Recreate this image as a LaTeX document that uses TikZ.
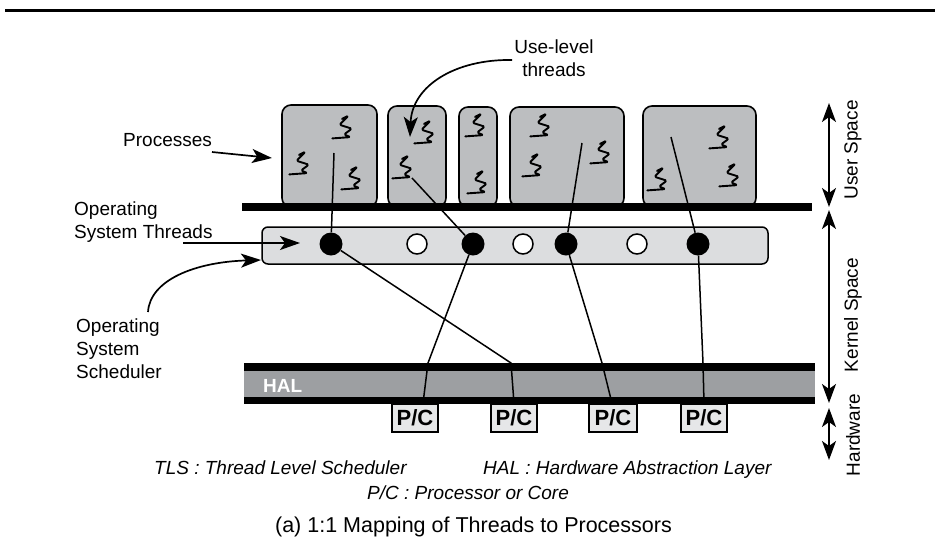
\documentclass[tikz,border=0pt]{standalone}
\usepackage{fontspec}
\setmainfont{Liberation Sans}
\usetikzlibrary{arrows.meta}
\definecolor{procgray}{HTML}{BCBEC0}
\definecolor{kerngray}{HTML}{DCDDDF}
\definecolor{halgray}{HTML}{9D9FA2}
\definecolor{pcgray}{HTML}{E6E7E8}

\begin{document}
\begin{tikzpicture}[x=1pt,y=-1pt,
  lbl/.style={font=\fontsize{19}{23}\selectfont, inner sep=0pt},
  note/.style={font=\fontsize{19}{22}\selectfont\itshape, inner sep=0pt},
  procbox/.style={draw, line width=1.6pt, fill=procgray, rounded corners=9pt, inner sep=0pt},
  tip/.style={-{Stealth[length=20pt,width=14pt,inset=5pt]}, line width=1.7pt},
  dtip/.style={{Stealth[length=19pt,width=14pt,inset=5pt]}-{Stealth[length=19pt,width=14pt,inset=5pt]}, line width=1.5pt},
  link/.style={line width=1.5pt},
  osthr/.style={circle, fill=black, minimum size=23pt, inner sep=0pt},
  idle/.style={circle, draw, line width=1.5pt, fill=white, minimum size=20pt, inner sep=0pt},
  pcbox/.style={draw, line width=1.4pt, fill=pcgray, minimum width=46pt, minimum height=28pt,
    inner sep=0pt, font=\fontsize{22}{22}\selectfont\bfseries},
  thr/.pic={
    \draw[scale=1.3, line width=1.9pt, line join=round, line cap=round, rounded corners=1.5pt]
      (-1.5,-7) -- (3.5,-9.5) -- (-3.5,-2.5) -- (6,0.5) -- (0,5) -- (5,7) -- (-9,8);
  }
]
\useasboundingbox (0,0) rectangle (938,542);

% top rule
\draw[line width=3pt] (5,10) -- (935,10);

% processes
\node[procbox, minimum width=95pt,  minimum height=102pt] (p1) at (329.5,156) {};
\node[procbox, minimum width=58pt,  minimum height=101pt] (p2) at (417,156.5) {};
\node[procbox, minimum width=38pt,  minimum height=100pt] (p3) at (478,157) {};
\node[procbox, minimum width=114pt, minimum height=100pt] (p4) at (567,157) {};
\node[procbox, minimum width=113pt, minimum height=101pt] (p5) at (699.5,156.5) {};

% user-level threads
\pic at (344,128) {thr};
\pic at (301,164) {thr};
\pic at (353,179) {thr};
\pic at (426,133) {thr};
\pic at (404,168) {thr};
\pic at (477,126) {thr};
\pic at (479,183) {thr};
\pic at (542,126) {thr};
\pic at (534,166) {thr};
\pic at (602,153) {thr};
\pic at (721,138) {thr};
\pic at (659,180) {thr};
\pic at (731,176) {thr};

% user/kernel boundary
\fill (242,203) rectangle (812,211);

% kernel thread pool
\node[draw, line width=1.5pt, fill=kerngray, rounded corners=6pt, inner sep=0pt,
  minimum width=506pt, minimum height=37pt] (kern) at (515,245.5) {};
\node[osthr] (b1) at (331,244) {};
\node[idle]  (w1) at (417,244) {};
\node[osthr] (b2) at (473,244) {};
\node[idle]  (w2) at (523,244) {};
\node[osthr] (b3) at (566,244) {};
\node[idle]  (w3) at (637,244) {};
\node[osthr] (b4) at (698,244) {};

% hardware abstraction layer
\fill[halgray] (244,371) rectangle (815,397);
\fill (244,363) rectangle (815,371);
\fill (244,397) rectangle (815,404);
\node[font=\fontsize{19}{19}\selectfont\bfseries, text=white, anchor=west, inner sep=0pt] (hal) at (263,386) {HAL};

% processors
\node[pcbox] (pc1) at (415,418) {P/C};
\node[pcbox] (pc2) at (514,418) {P/C};
\node[pcbox, minimum width=48pt] (pc3) at (613,418) {P/C};
\node[pcbox] (pc4) at (704,418) {P/C};

% thread mappings
\coordinate (t1) at (334,153);
\coordinate (t2) at (412,178);
\coordinate (t3) at (582,143);
\coordinate (t4) at (671,137);
\coordinate (k1) at (511,363);
\coordinate (k2) at (428,363);
\coordinate (k3) at (602,363);
\coordinate (k4) at (703,363);
\coordinate (e2) at (423,404);
\coordinate (e3) at (612,404);
\draw[link] (t1) -- (b1);
\draw[link] (t2) -- (b2);
\draw[link] (t3) -- (b3);
\draw[link] (t4) -- (b4);
\draw[link] (b1) -- (k1) -- (pc2.north);
\draw[link] (b2) -- (k2) -- (e2 |- pc1.north);
\draw[link] (b3) -- (k3) -- (e3 |- pc3.north);
\draw[link] (b4) -- (k4) -- (pc4.north);

% labels and pointers
\node[lbl, anchor=west] (proc) at (123,140) {Processes};
\node[lbl, align=center] (ult) at (554,58) {Use-level\\threads};
\node[lbl, align=left, anchor=west] (ost) at (74,222) {Operating\\System Threads};
\node[lbl, align=left, anchor=west] (oss) at (76,349) {Operating\\System\\Scheduler};

\coordinate (procA) at (212,152);
\coordinate (procB) at (272,158);
\draw[tip] (procA) -- (procB);
\coordinate (ostA) at (183,243);
\coordinate (ostB) at (300,243);
\draw[tip] (ostA) -- (ostB);
\coordinate (ossA) at (148,312);
\coordinate (ossB) at (261,260);
\draw[tip] (ossA) .. controls (150,280) and (195,262) .. (ossB);
\coordinate (ultA) at (512,60);
\coordinate (ultB) at (410,137);
\draw[tip] (ultA) .. controls (455,59) and (412,86) .. (ultB);

% layer extents
\coordinate (us1) at (829,103);
\coordinate (us2) at (829,207);
\coordinate (ks1) at (829,210);
\coordinate (ks2) at (829,403);
\coordinate (hw1) at (829,408);
\coordinate (hw2) at (829,460);
\draw[dtip] (us1) -- (us2);
\draw[dtip] (ks1) -- (ks2);
\draw[dtip] (hw1) -- (hw2);
\node[lbl, rotate=90] (usl) at (853,150) {User Space};
\node[lbl, rotate=90] (ksl) at (853,315) {Kernel Space};
\node[lbl, rotate=90] (hwl) at (853,435) {Hardware};

% legend and caption
\node[note, anchor=base west] (tls) at (154,474) {TLS : Thread Level Scheduler};
\node[note, anchor=base west] (haln) at (483,474) {HAL : Hardware Abstraction Layer};
\node[note, anchor=base west] (pcn) at (367,499) {P/C : Processor or Core};
\node[font=\fontsize{21.5}{24}\selectfont, inner sep=0pt, anchor=base] (cap) at (473.5,532) {(a) 1:1 Mapping of Threads to Processors};
\end{tikzpicture}
\end{document}
